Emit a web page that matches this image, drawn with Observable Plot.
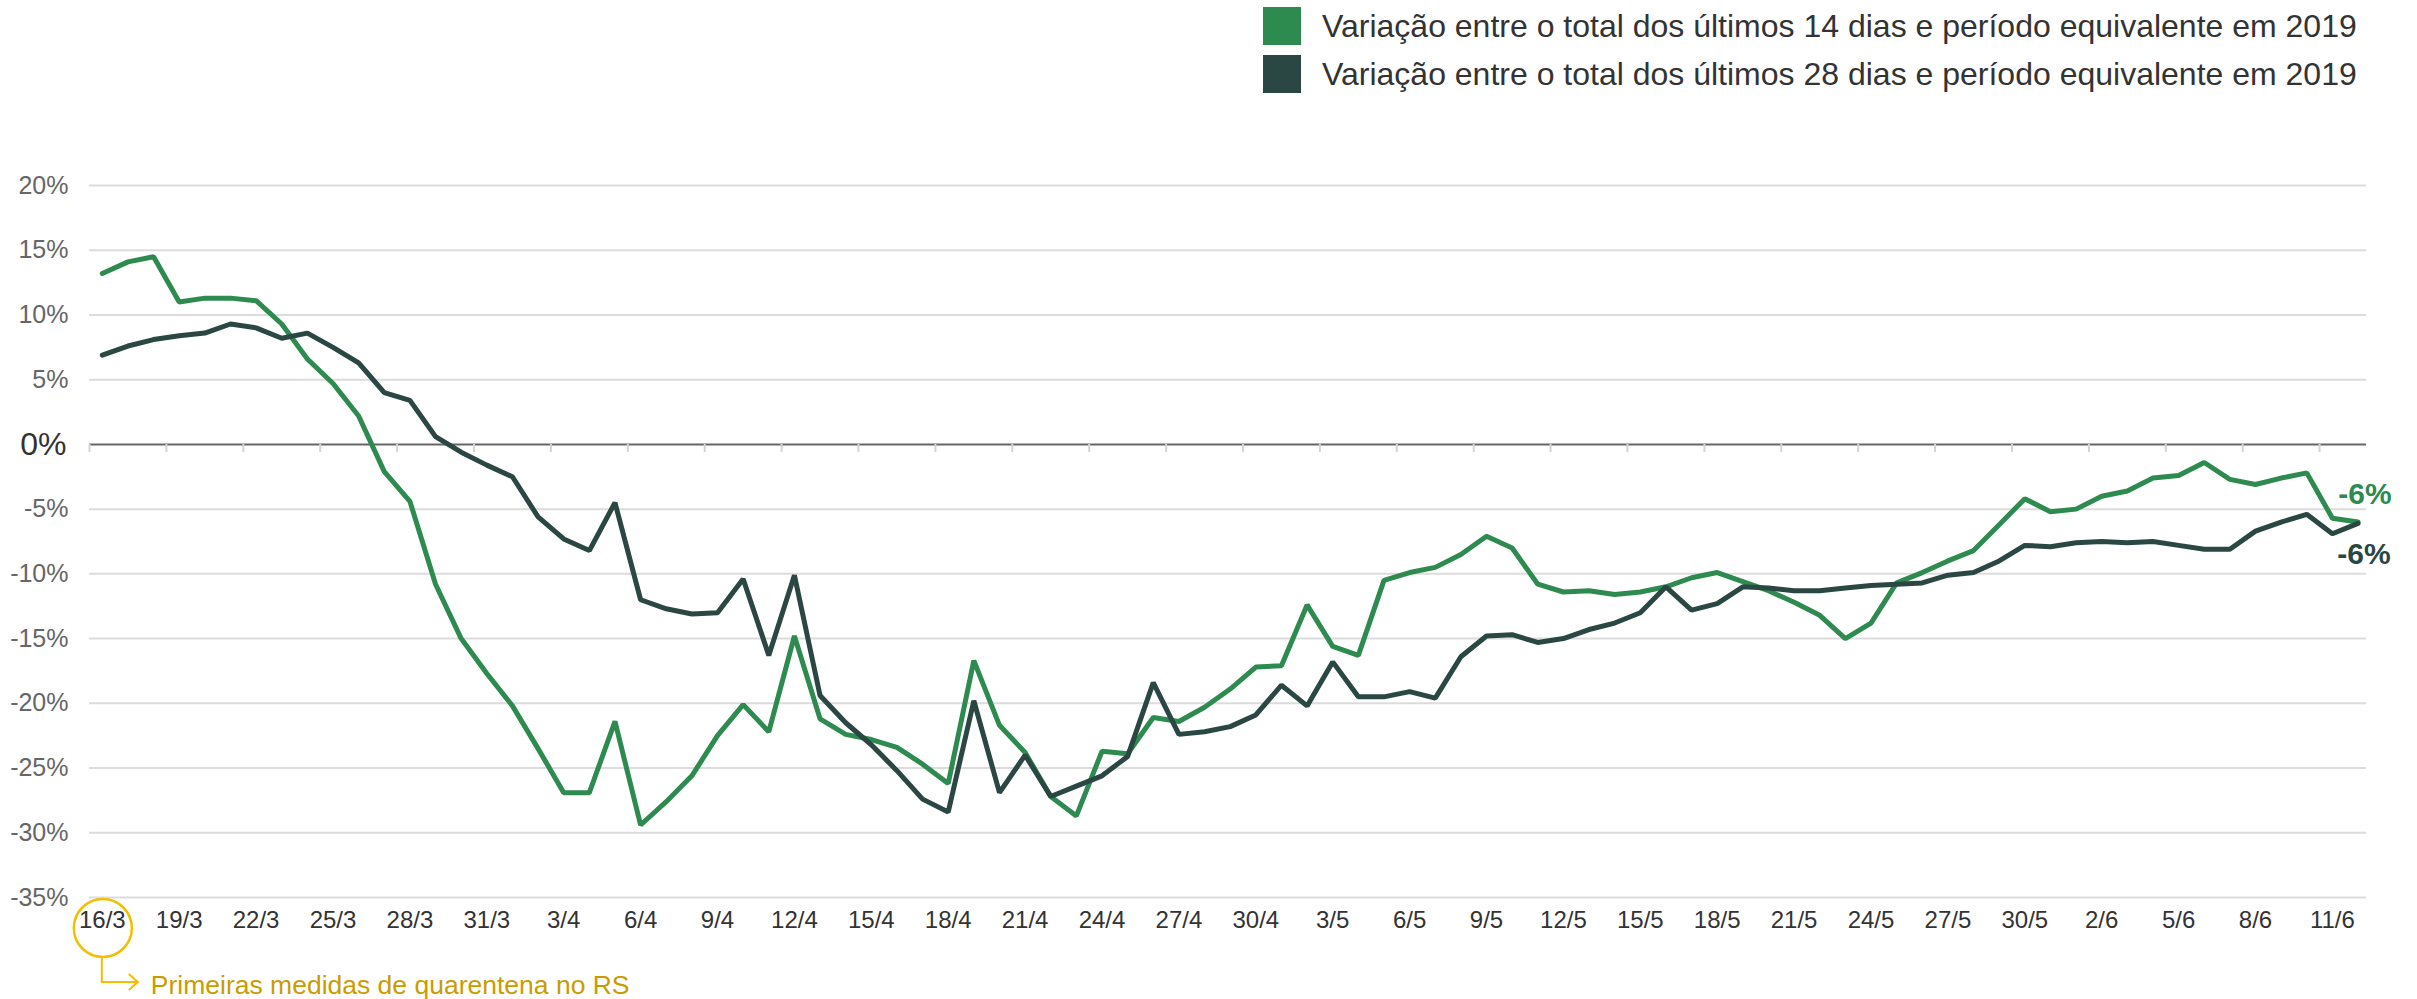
<!DOCTYPE html>
<html><head><meta charset="utf-8">
<script src="https://cdn.jsdelivr.net/npm/d3@7"></script>
<script src="https://cdn.jsdelivr.net/npm/@observablehq/plot@0.6"></script>
<style>
body{margin:0;background:#fff;width:2417px;height:999px;overflow:hidden}
#legend{position:relative;height:100px;width:2417px}
.item{position:absolute;left:1263px;height:38px;display:flex;align-items:center;font-family:"Liberation Sans",Arial,sans-serif;font-size:32px;color:#333;white-space:nowrap}
.sw{width:38px;height:38px;margin-right:21px;flex:none}
</style></head><body>
<div id="legend"></div>
<div id="chart"></div>
<script>
const seriesNames = [
  "Variação entre o total dos últimos 14 dias e período equivalente em 2019",
  "Variação entre o total dos últimos 28 dias e período equivalente em 2019"
];
const seriesColors = ["#2E8B50", "#2A4744"];
const startDay = "2020-03-16";
const tickLabels = ["16/3","19/3","22/3","25/3","28/3","31/3","3/4","6/4","9/4","12/4","15/4","18/4","21/4","24/4","27/4","30/4","3/5","6/5","9/5","12/5","15/5","18/5","21/5","24/5","27/5","30/5","2/6","5/6","8/6","11/6"];
const yTicks = [20,15,10,5,0,-5,-10,-15,-20,-25,-30,-35];
const green14 = [13.2,14.1,14.5,11.0,11.3,11.3,11.1,9.3,6.6,4.7,2.2,-2.1,-4.4,-10.8,-15.0,-17.7,-20.2,-23.5,-26.9,-26.9,
  -21.4,-29.4,-27.6,-25.6,-22.5,-20.1,-22.2,-14.8,-21.2,-22.4,-22.8,-23.4,-24.7,-26.2,-16.7,-21.7,-23.8,-27.2,-28.7,-23.7,
  -23.9,-21.1,-21.4,-20.3,-18.9,-17.2,-17.1,-12.4,-15.6,-16.3,-10.5,-9.9,-9.5,-8.5,-7.1,-8.0,-10.8,-11.4,-11.3,-11.6,
  -11.4,-11.0,-10.3,-9.9,-10.6,-11.3,-12.2,-13.2,-15.0,-13.8,-10.7,-9.9,-9.0,-8.2,-6.2,-4.2,-5.2,-5.0,-4.0,-3.6,
  -2.6,-2.4,-1.4,-2.7,-3.1,-2.6,-2.2,-5.7,-6.0];
const dark28 = [6.9,7.6,8.1,8.4,8.6,9.3,9.0,8.2,8.6,7.5,6.3,4.0,3.4,0.6,-0.6,-1.6,-2.5,-5.6,-7.3,-8.2,
  -4.5,-12.0,-12.7,-13.1,-13.0,-10.4,-16.3,-10.1,-19.4,-21.5,-23.2,-25.2,-27.4,-28.4,-19.8,-26.9,-24.0,-27.2,-26.4,-25.6,
  -24.1,-18.4,-22.4,-22.2,-21.8,-20.9,-18.6,-20.2,-16.8,-19.5,-19.5,-19.1,-19.6,-16.4,-14.8,-14.7,-15.3,-15.0,-14.3,-13.8,
  -13.0,-11.0,-12.8,-12.3,-11.0,-11.1,-11.3,-11.3,-11.1,-10.9,-10.8,-10.7,-10.1,-9.9,-9.0,-7.8,-7.9,-7.6,-7.5,-7.6,
  -7.5,-7.8,-8.1,-8.1,-6.7,-6.0,-5.4,-6.9,-6.1];
const endLabels = ["-6%","-6%"];
const annotationText = "Primeiras medidas de quarentena no RS";

const DAY = 864e5;
const t0 = new Date(startDay + "T00:00:00Z").getTime();
const dates = green14.map((_, i) => new Date(t0 + i * DAY));
const rows14 = green14.map((v, i) => ({date: dates[i], v}));
const rows28 = dark28.map((v, i) => ({date: dates[i], v}));
const tickMarkDates = tickLabels.map((_, k) => new Date(t0 + (3 * k - 0.5) * DAY));
const last = dates.length - 1;

// legend
const legend = document.getElementById("legend");
seriesNames.forEach((name, i) => {
  const it = document.createElement("div");
  it.className = "item";
  it.style.top = (7 + 48 * i) + "px";
  it.innerHTML = `<div class="sw" style="background:${seriesColors[i]}"></div><span>${name}</span>`;
  legend.appendChild(it);
});

const annotation = (index, scales, values, dimensions) => {
  const cx = scales.x(dates[0]);
  const yb = dimensions.height - dimensions.marginBottom;
  const g = d3.create("svg:g");
  g.append("ellipse").attr("cx", cx + 1).attr("cy", yb + 31).attr("rx", 29).attr("ry", 29)
    .attr("fill", "none").attr("stroke", "#F5BE00").attr("stroke-width", 2.5);
  g.append("path").attr("d", `M${cx},${yb + 60}V${yb + 85}H${cx + 36}`)
    .attr("fill", "none").attr("stroke", "#F5BE00").attr("stroke-width", 2);
  g.append("path").attr("d", `M${cx + 27},${yb + 77}L${cx + 36},${yb + 85}L${cx + 27},${yb + 93}`)
    .attr("fill", "none").attr("stroke", "#F5BE00").attr("stroke-width", 2);
  g.append("text").attr("x", cx + 49).attr("y", yb + 88).attr("dy", "0.35em")
    .attr("text-anchor", "start")
    .attr("font-size", 26.5).attr("fill", "#C99C00").text(annotationText);
  return g.node();
};

const chart = Plot.plot({
  width: 2417, height: 899,
  marginLeft: 89, marginRight: 51, marginTop: 85, marginBottom: 102,
  style: {fontFamily: '"Liberation Sans", Arial, sans-serif', background: "white", overflow: "visible"},
  x: {type: "utc", domain: [new Date(t0 - 0.5 * DAY), new Date(t0 + (last + 0.33) * DAY)], axis: null},
  y: {domain: [-35, 20], axis: null},
  marks: [
    Plot.ruleY(yTicks.filter(d => d !== 0), {y: d => d, stroke: "#dcdcdc", strokeWidth: 2}),
    Plot.ruleY([0], {y: d => d, stroke: "#666", strokeWidth: 2}),
    Plot.ruleX(tickMarkDates, {x: d => d, y1: 0, y2: 0, insetBottom: -8, stroke: "#d4d4d4", strokeWidth: 2}),
    Plot.text(yTicks.filter(d => d !== 0), {y: d => d, text: d => d + "%", frameAnchor: "left", textAnchor: "end", dx: -21, fontSize: 25, fill: "#666"}),
    Plot.text([0], {y: d => d, text: d => d + "%", frameAnchor: "left", textAnchor: "end", dx: -23, fontSize: 32, fill: "#333"}),
    Plot.text(tickLabels, {x: (d, k) => dates[3 * k], text: d => d, frameAnchor: "bottom", dy: 30, fontSize: 24, fill: "#333"}),
    Plot.line(rows14, {x: "date", y: "v", stroke: seriesColors[0], strokeWidth: 5, strokeLinejoin: "miter", strokeLinecap: "round"}),
    Plot.line(rows28, {x: "date", y: "v", stroke: seriesColors[1], strokeWidth: 5, strokeLinejoin: "miter", strokeLinecap: "round"}),
    Plot.text([rows14[last]], {x: "date", y: "v", text: () => endLabels[0], dx: 7, dy: -28, fontSize: 30, fontWeight: "bold", fill: seriesColors[0]}),
    Plot.text([rows28[last]], {x: "date", y: "v", text: () => endLabels[1], dx: 6, dy: 31, fontSize: 30, fontWeight: "bold", fill: seriesColors[1]}),
    annotation
  ]
});
document.getElementById("chart").appendChild(chart);
</script>
</body></html>
